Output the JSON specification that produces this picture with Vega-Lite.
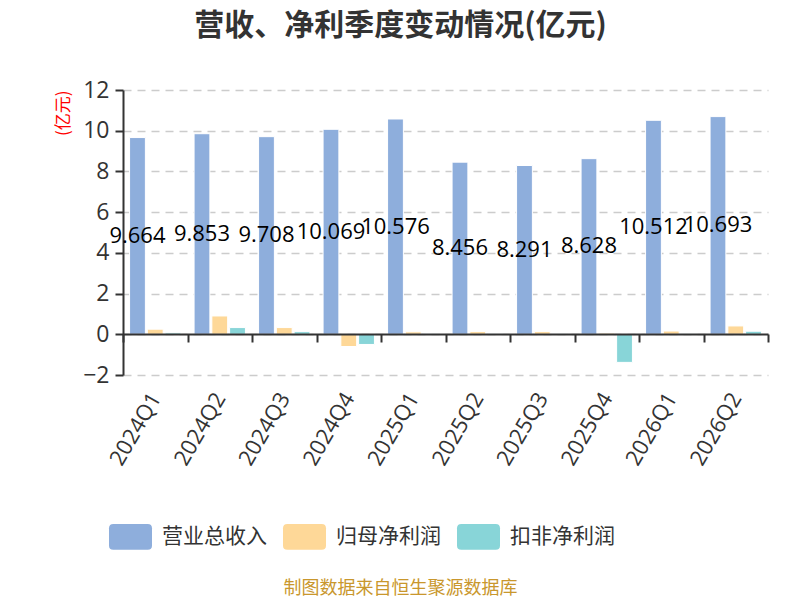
{
  "$schema": "https://vega.github.io/schema/vega-lite/v6.json",
  "width": 645,
  "height": 285,
  "autosize": {"type": "none"},
  "padding": {"left": 123, "top": 90, "right": 32, "bottom": 225},
  "background": "white",
  "config": {
    "font": "Noto Sans CJK SC",
    "view": {"stroke": null},
    "legend": {
      "orient": "none",
      "legendX": -14,
      "legendY": 425,
      "direction": "horizontal",
      "symbolType": "M-0.8,-0.6 L0.8,-0.6 Q1,-0.6 1,-0.4 L1,0.4 Q1,0.6 0.8,0.6 L-0.8,0.6 Q-1,0.6 -1,0.4 L-1,-0.4 Q-1,-0.6 -0.8,-0.6 Z",
      "symbolSize": 1849,
      "symbolStrokeWidth": 0,
      "labelFontSize": 21,
      "labelColor": "#333333",
      "labelOffset": 10,
      "columnPadding": 16
    }
  },
  "title": {
    "text": "营收、净利季度变动情况(亿元)",
    "fontSize": 30,
    "fontWeight": "bold",
    "color": "#333333",
    "anchor": "middle",
    "dx": -45,
    "offset": 38
  },
  "data": {
    "values": [
      {"q": "2024Q1", "series": "营业总收入", "value": 9.664},
      {"q": "2024Q2", "series": "营业总收入", "value": 9.853},
      {"q": "2024Q3", "series": "营业总收入", "value": 9.708},
      {"q": "2024Q4", "series": "营业总收入", "value": 10.069},
      {"q": "2025Q1", "series": "营业总收入", "value": 10.576},
      {"q": "2025Q2", "series": "营业总收入", "value": 8.456},
      {"q": "2025Q3", "series": "营业总收入", "value": 8.291},
      {"q": "2025Q4", "series": "营业总收入", "value": 8.628},
      {"q": "2026Q1", "series": "营业总收入", "value": 10.512},
      {"q": "2026Q2", "series": "营业总收入", "value": 10.693},
      {"q": "2024Q1", "series": "归母净利润", "value": 0.25},
      {"q": "2024Q2", "series": "归母净利润", "value": 0.9},
      {"q": "2024Q3", "series": "归母净利润", "value": 0.33},
      {"q": "2024Q4", "series": "归母净利润", "value": -0.6},
      {"q": "2025Q1", "series": "归母净利润", "value": 0.12},
      {"q": "2025Q2", "series": "归母净利润", "value": 0.13},
      {"q": "2025Q3", "series": "归母净利润", "value": 0.13},
      {"q": "2025Q4", "series": "归母净利润", "value": 0.06},
      {"q": "2026Q1", "series": "归母净利润", "value": 0.16},
      {"q": "2026Q2", "series": "归母净利润", "value": 0.41},
      {"q": "2024Q1", "series": "扣非净利润", "value": 0.07},
      {"q": "2024Q2", "series": "扣非净利润", "value": 0.33},
      {"q": "2024Q3", "series": "扣非净利润", "value": 0.13},
      {"q": "2024Q4", "series": "扣非净利润", "value": -0.5},
      {"q": "2025Q1", "series": "扣非净利润", "value": 0.02},
      {"q": "2025Q2", "series": "扣非净利润", "value": 0.03},
      {"q": "2025Q3", "series": "扣非净利润", "value": 0.03},
      {"q": "2025Q4", "series": "扣非净利润", "value": -1.38},
      {"q": "2026Q1", "series": "扣非净利润", "value": 0.03},
      {"q": "2026Q2", "series": "扣非净利润", "value": 0.15}
    ]
  },
  "encoding": {
    "x": {
      "field": "q",
      "type": "nominal",
      "sort": null,
      "scale": {"paddingInner": 0, "paddingOuter": 0},
      "axis": {
        "orient": "bottom",
        "offset": -41,
        "zindex": 1,
        "domainColor": "#333333",
        "domainWidth": 2,
        "tickColor": "#333333",
        "tickWidth": 2,
        "tickSize": 8,
        "tickBand": "extent",
        "labelAngle": -60,
        "labelAlign": "right",
        "labelBaseline": "middle",
        "labelFont": "Open Sans",
        "labelFontSize": 22,
        "labelColor": "#333333",
        "labelPadding": 52,
        "title": "制图数据来自恒生聚源数据库",
        "titleFontSize": 18,
        "titleFontWeight": "normal",
        "titleColor": "#c9972d",
        "titleX": 277,
        "titleY": 254,
        "titleBaseline": "middle"
      }
    },
    "xOffset": {
      "field": "series",
      "type": "nominal",
      "scale": {"domain": ["营业总收入", "归母净利润", "扣非净利润"], "paddingInner": 0.11, "paddingOuter": 0.37}
    }
  },
  "layer": [
    {
      "mark": {"type": "bar", "stroke": "white", "strokeWidth": 1},
      "encoding": {
        "y": {
          "field": "value",
          "type": "quantitative",
          "scale": {"domain": [-2, 12], "nice": false},
          "axis": {
            "values": [-2, 0, 2, 4, 6, 8, 10, 12],
            "domainColor": "#333333",
            "domainWidth": 2,
            "tickColor": "#333333",
            "tickWidth": 2,
            "tickSize": 8,
            "labelFont": "Open Sans",
            "labelFontSize": 23,
            "labelColor": "#333333",
            "labelPadding": 6,
            "grid": true,
            "gridColor": "#cccccc",
            "gridDash": [8, 6],
            "gridWidth": 1.5,
            "title": "(亿元)",
            "titleColor": "red",
            "titleFontSize": 17,
            "titleFontWeight": "normal",
            "titleAnchor": "end",
            "titlePadding": 10
          }
        },
        "color": {
          "field": "series",
          "type": "nominal",
          "scale": {"domain": ["营业总收入", "归母净利润", "扣非净利润"], "range": ["#8eaedc", "#fed898", "#88d5d8"]},
          "legend": {"title": null}
        }
      }
    },
    {
      "transform": [{"filter": "datum.series === '营业总收入'"}],
      "mark": {"type": "text", "font": "Open Sans", "fontSize": 22, "color": "#000000", "baseline": "middle", "align": "center"},
      "encoding": {
        "y": {
          "field": "value",
          "type": "quantitative",
          "scale": {"domain": [-4, 24], "nice": false},
          "axis": null
        },
        "text": {"field": "value", "type": "quantitative", "format": ".3f"}
      }
    }
  ],
  "resolve": {"scale": {"y": "independent"}}
}
